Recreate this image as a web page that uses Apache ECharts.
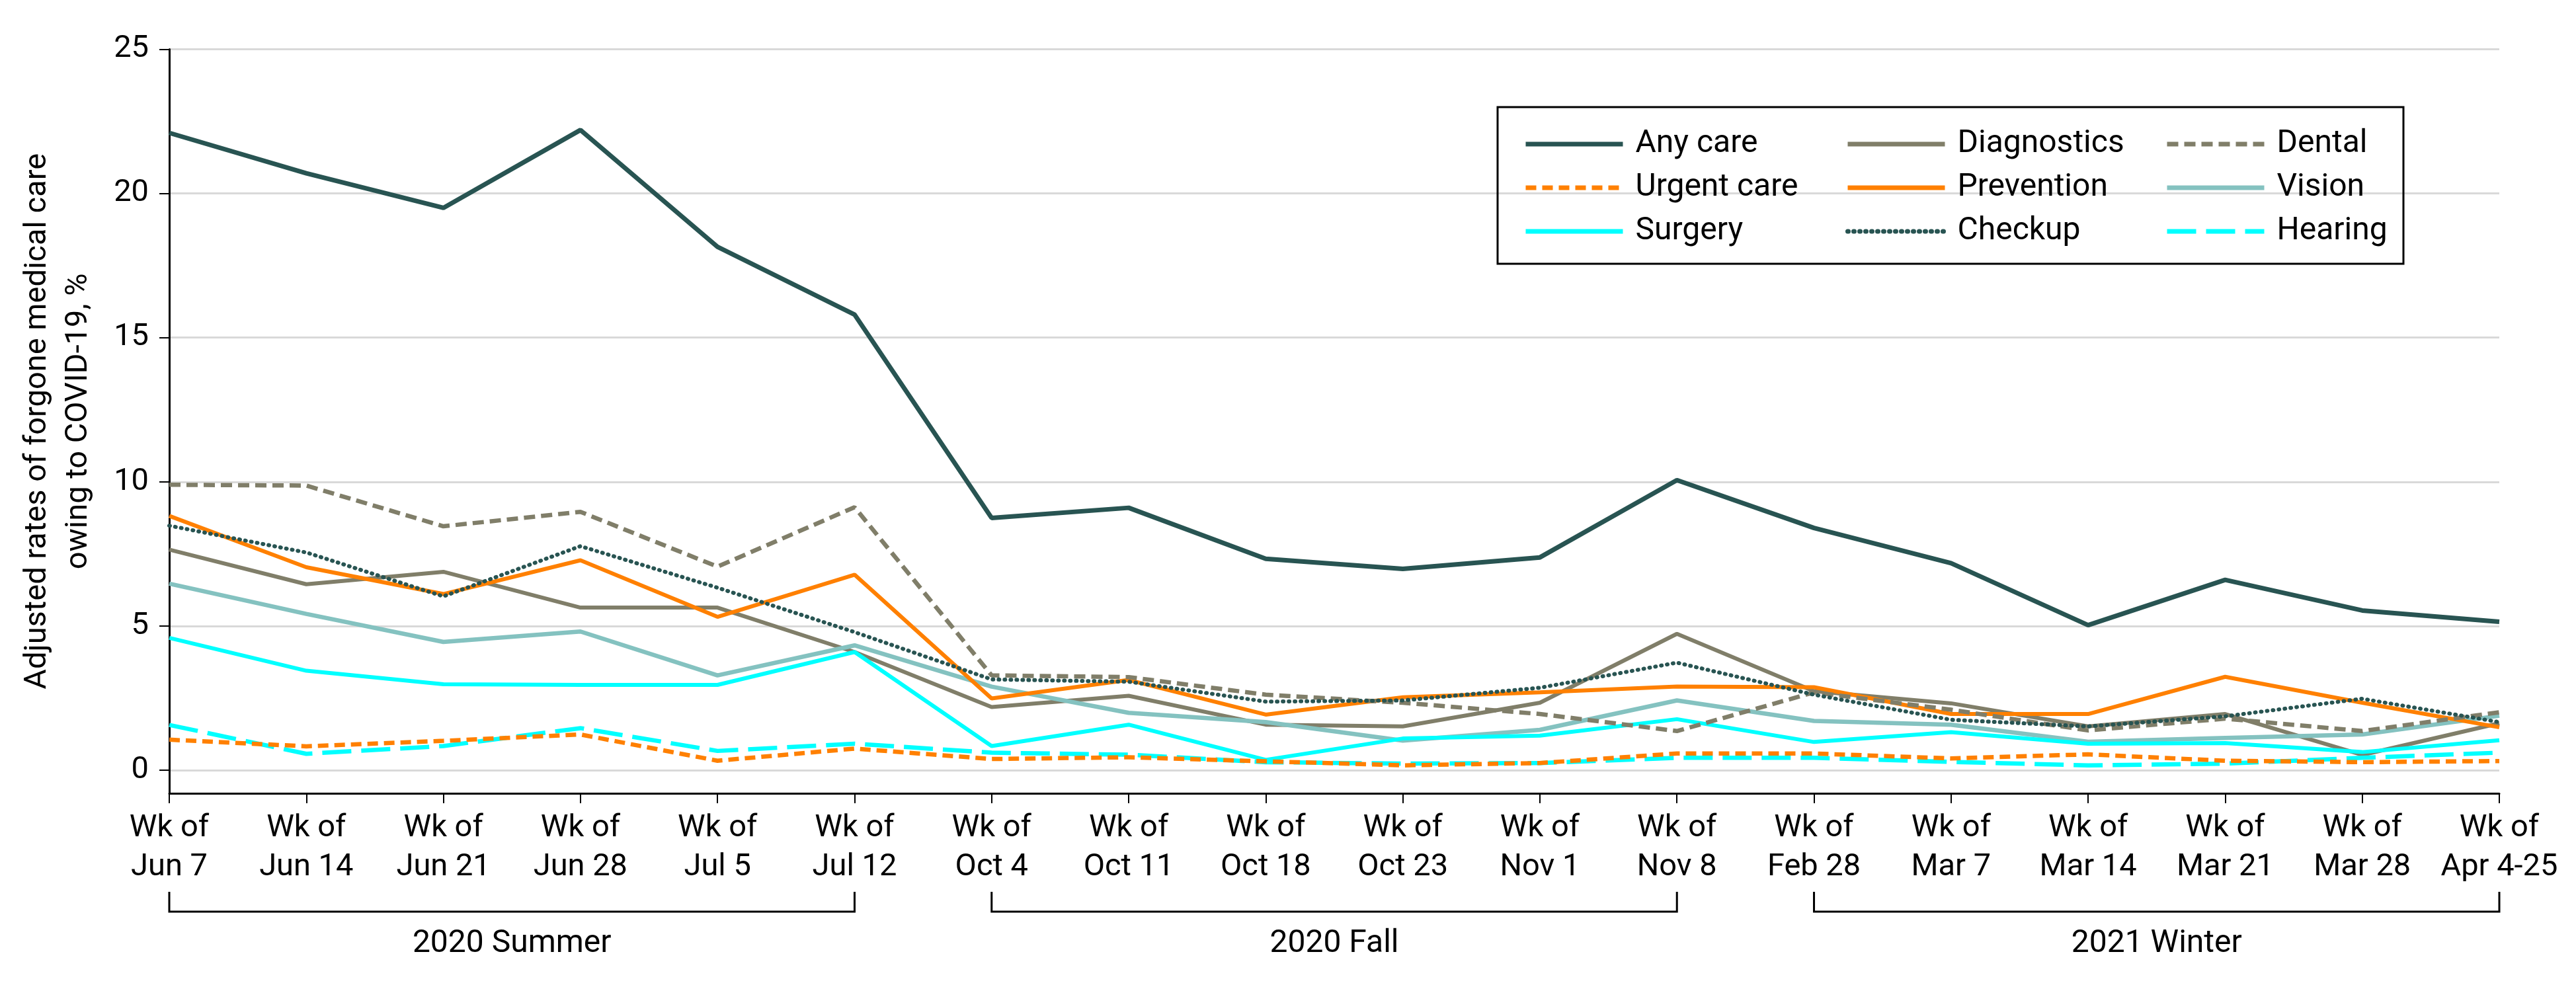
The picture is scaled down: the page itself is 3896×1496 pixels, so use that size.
<!DOCTYPE html>
<html>
<head>
<meta charset="utf-8">
<script src="https://cdn.jsdelivr.net/npm/echarts@6/dist/echarts.min.js"></script>
<style>
  html, body { margin: 0; padding: 0; background: #fff; }
  #chart { width: 3896px; height: 1496px; }
</style>
</head>
<body>
<div id="chart"></div>
<script>
const weeks = ['Wk of\nJun 7', 'Wk of\nJun 14', 'Wk of\nJun 21', 'Wk of\nJun 28', 'Wk of\nJul 5', 'Wk of\nJul 12',
  'Wk of\nOct 4', 'Wk of\nOct 11', 'Wk of\nOct 18', 'Wk of\nOct 23', 'Wk of\nNov 1', 'Wk of\nNov 8',
  'Wk of\nFeb 28', 'Wk of\nMar 7', 'Wk of\nMar 14', 'Wk of\nMar 21', 'Wk of\nMar 28', 'Wk of\nApr 4-25']

const anyCare     = [22.1, 20.7, 19.5, 22.2, 18.15, 15.8, 8.75, 9.1, 7.33, 6.98, 7.38, 10.06, 8.4, 7.18, 5.03, 6.6, 5.54, 5.15]
const urgentCare  = [1.06, 0.83, 1.02, 1.24, 0.33, 0.75, 0.39, 0.45, 0.31, 0.17, 0.25, 0.58, 0.58, 0.41, 0.55, 0.33, 0.28, 0.32]
const surgery     = [4.59, 3.45, 2.98, 2.96, 2.96, 4.1, 0.84, 1.58, 0.36, 1.1, 1.2, 1.77, 0.98, 1.32, 0.92, 0.94, 0.63, 1.04]
const diagnostics = [7.65, 6.45, 6.88, 5.64, 5.64, 4.1, 2.19, 2.58, 1.58, 1.52, 2.34, 4.73, 2.74, 2.32, 1.52, 1.95, 0.53, 1.63]
const prevention  = [8.82, 7.04, 6.11, 7.28, 5.32, 6.78, 2.49, 3.13, 1.93, 2.53, 2.7, 2.9, 2.88, 1.95, 1.95, 3.24, 2.34, 1.49]
const checkup     = [8.48, 7.55, 6.03, 7.77, 6.33, 4.79, 3.15, 3.07, 2.38, 2.42, 2.86, 3.73, 2.62, 1.75, 1.52, 1.87, 2.48, 1.67]
const dental      = [9.9, 9.87, 8.46, 8.96, 7.06, 9.12, 3.29, 3.23, 2.62, 2.34, 1.95, 1.36, 2.7, 2.1, 1.38, 1.79, 1.36, 2.01]
const vision      = [6.47, 5.42, 4.45, 4.81, 3.29, 4.33, 2.9, 1.99, 1.67, 1.03, 1.4, 2.42, 1.71, 1.58, 0.99, 1.12, 1.24, 1.89]
const hearing     = [1.57, 0.57, 0.84, 1.46, 0.67, 0.92, 0.61, 0.54, 0.28, 0.23, 0.25, 0.43, 0.43, 0.29, 0.17, 0.23, 0.43, 0.61]

const yTicks = [0, 5, 10, 15, 20, 25]

// season brackets under the axis
const groupLabels = ['2020 Summer', '2020 Fall', '2021 Winter']
const groupStart = [0, 6, 12]
const groupEnd = [5, 11, 17]

const FONT = 'Roboto'
const teal = '#285452'
const olive = '#807e69'
const orange = '#ff8000'
const cyan = '#00ffff'
const lightTeal = '#84c2c0'

function line(name, data, color, type, width) {
  return {
    name: name,
    type: 'line',
    data: data,
    symbol: 'none',
    animation: false,
    lineStyle: {color: color, width: width || 6, type: type || 'solid'},
    itemStyle: {color: color}
  }
}

function legendCol(left, names) {
  return {
    data: names,
    orient: 'vertical',
    left: left,
    top: 185,
    itemWidth: 147,
    itemHeight: 14,
    itemGap: 10,
    selectedMode: false,
    itemStyle: {opacity: 0, borderWidth: 0},
    lineStyle: {width: 7},
    textStyle: {fontFamily: FONT, fontSize: 48, color: '#000', lineHeight: 56, padding: [0, 0, 0, 14]}
  }
}

let chart = echarts.init(document.getElementById('chart'))

let dotted = line('Checkup', checkup, teal, [1, 8], 6)
dotted.lineStyle.cap = 'round'

option = {
  backgroundColor: '#fff',
  grid: {left: 256, right: 116, top: 74.5, bottom: 296, outerBoundsMode: 'none'},
  legend: [
    legendCol(2299, ['Any care', 'Urgent care', 'Surgery']),
    legendCol(2786, ['Diagnostics', 'Prevention', 'Checkup']),
    legendCol(3269, ['Dental', 'Vision', 'Hearing'])
  ],
  xAxis: {
    type: 'category',
    data: weeks,
    boundaryGap: false,
    axisLine: {onZero: false, lineStyle: {color: '#000', width: 3}},
    axisTick: {length: 15, lineStyle: {color: '#000', width: 2}},
    axisLabel: {fontFamily: FONT, fontSize: 47, color: '#000', lineHeight: 59, margin: 24, interval: 0}
  },
  yAxis: {
    type: 'value',
    min: -0.8,
    max: 25,
    minInterval: 5,
    maxInterval: 5,
    name: 'Adjusted rates of forgone medical care\nowing to COVID-19, %',
    nameLocation: 'middle',
    nameGap: 106,
    nameRotate: 90,
    nameTextStyle: {fontFamily: FONT, fontSize: 47, color: '#000', lineHeight: 62, align: 'center'},
    axisLine: {show: true, lineStyle: {color: '#000', width: 3}},
    axisTick: {show: true, length: 15, customValues: yTicks, lineStyle: {color: '#000', width: 2}},
    axisLabel: {fontFamily: FONT, fontSize: 47, color: '#000', margin: 31, customValues: yTicks},
    splitLine: {lineStyle: {color: '#d9d9d9', width: 3}}
  },
  series: [
    line('Any care', anyCare, teal, 'solid', 7),
    line('Diagnostics', diagnostics, olive),
    line('Vision', vision, lightTeal, 'solid', 6.5),
    line('Surgery', surgery, cyan),
    line('Prevention', prevention, orange),
    line('Dental', dental, olive, [17, 9], 6.5),
    dotted,
    line('Hearing', hearing, cyan, [44, 15], 6.5),
    line('Urgent care', urgentCare, orange, [16, 9], 6.5)
  ]
}
chart.setOption(option)

// brackets + legend frame, placed from the axis scale
let graphics = [{
  type: 'rect',
  shape: {x: 2265, y: 162, width: 1370, height: 237},
  style: {fill: 'none', stroke: '#000', lineWidth: 3},
  silent: true
}]
for (let i = 0; i < groupLabels.length; i++) {
  let x0 = chart.convertToPixel({xAxisIndex: 0}, groupStart[i])
  let x1 = chart.convertToPixel({xAxisIndex: 0}, groupEnd[i])
  graphics.push({
    type: 'polyline',
    shape: {points: [[x0, 1349], [x0, 1379], [x1, 1379], [x1, 1349]]},
    style: {fill: 'none', stroke: '#000', lineWidth: 3},
    silent: true
  })
  graphics.push({
    type: 'text',
    x: (x0 + x1) / 2,
    y: 1428,
    style: {text: groupLabels[i], fontFamily: FONT, fontSize: 48, fill: '#000', align: 'center', verticalAlign: 'middle'},
    silent: true
  })
}
chart.setOption({graphic: graphics})
</script>
</body>
</html>
